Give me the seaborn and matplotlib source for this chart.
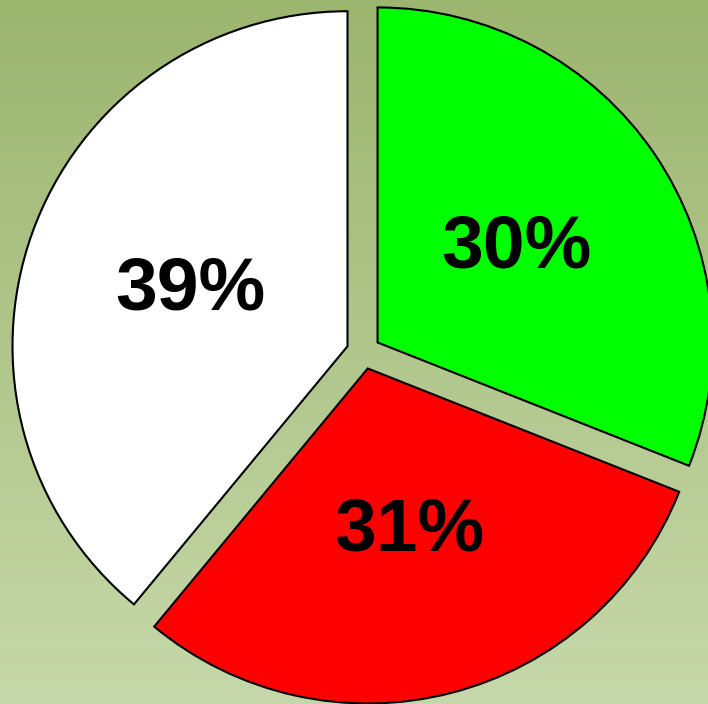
import numpy as np
import matplotlib
matplotlib.use("Agg")
import matplotlib.pyplot as plt
import seaborn as sns
from matplotlib.colors import LinearSegmentedColormap

labels = ["Green", "Red", "White"]
# wedge sizes as drawn in the picture (angles measured) and the printed labels
values = [31, 30, 39]
pct_labels = ["30%", "31%", "39%"]
colors = ["#00ff00", "#ff0000", "#ffffff"]

sns.set_theme(style="white")
plt.rcParams['font.family'] = ['Liberation Sans', 'DejaVu Sans']

W, H = 708, 704
fig = plt.figure(figsize=(W / 100, H / 100), dpi=100)
ax = fig.add_axes([0, 0, 1, 1])
ax.set_xlim(0, W)
ax.set_ylim(0, H)
ax.set_aspect('equal')
ax.axis('off')

# background gradient
cmap = LinearSegmentedColormap.from_list("bg", ["#c6d8a9", "#9cb56f"])
grad = np.linspace(0, 1, 256).reshape(-1, 1)
ax.imshow(grad, extent=[0, W, 0, H], origin='lower', cmap=cmap, aspect='auto', zorder=0)

R = 335
wedges, texts, autotexts = ax.pie(
    values, colors=colors, startangle=90, counterclock=False,
    radius=R, center=(363.5, H - 352), explode=[17, 17, 17],
    autopct='%1.0f%%', pctdistance=0.5, frame=True,
    wedgeprops=dict(edgecolor='black', linewidth=1.5),
    textprops=dict(fontsize=54, fontweight='bold', color='black'))
for w in wedges:
    w.set_zorder(2)
for t, lab in zip(autotexts, pct_labels):
    t.set_text(lab)
    t.set_zorder(3)

ax.set_xlim(0, W)
ax.set_ylim(0, H)
ax.axis('off')
fig.savefig("out.png", dpi=100)
